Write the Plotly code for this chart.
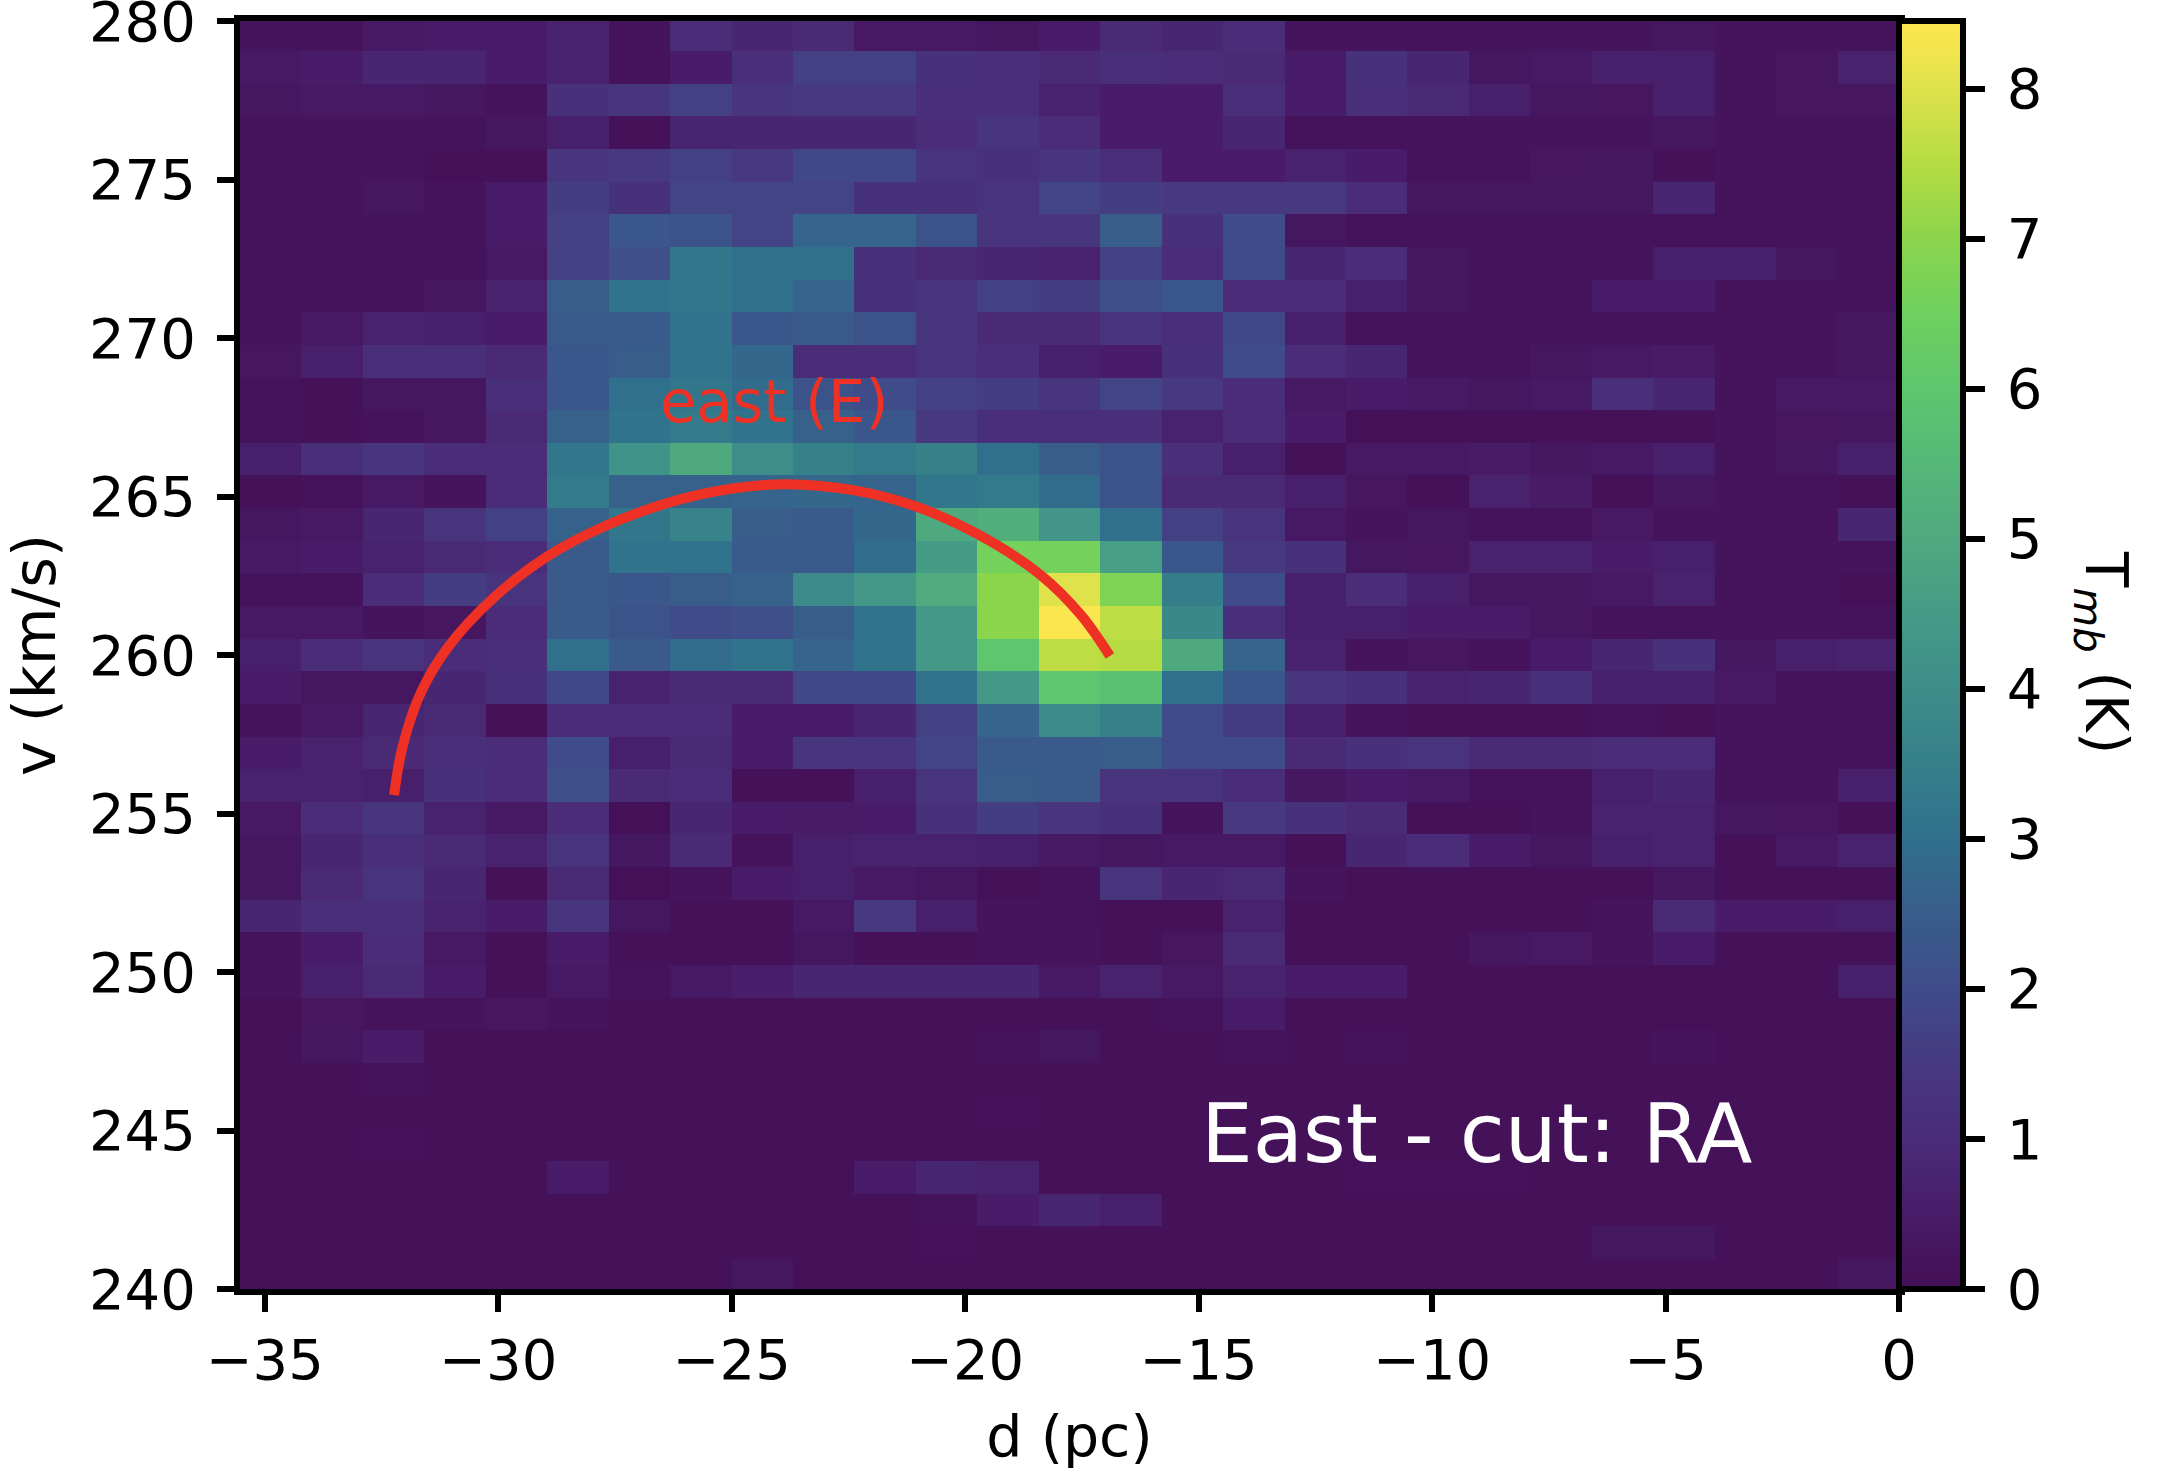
"""East cut position-velocity map, T_mb heatmap with the arc drawn over it."""
import numpy as np
import plotly.graph_objects as go

WIDTH, HEIGHT = 2172, 1470

# map values in K, rows from the top (v = 280) down, columns from d = -35.5 to 0
tmb_rows = [
    [.2,.2,.4,.5,.5,.7,.2,1.0,.8,.9,.4,.4,.3,.5,.9,.8,1.0,.2,.2,.2,.2,.2,.2,.3,.2,.2,.2],
    [.4,.5,.8,.8,.5,.7,.15,.5,1.1,1.7,1.7,1.2,1.1,.9,1.1,1.0,.9,.5,1.2,.8,.3,.4,.6,.6,.2,.25,.7],
    [.3,.35,.4,.3,.2,1.2,1.4,1.7,1.4,1.5,1.5,1.1,1.1,.7,.5,.5,1.1,.5,1.1,.9,.6,.3,.25,.6,.2,.25,.25],
    [.2,.2,.2,.15,.3,.6,.1,.75,.8,.8,.8,1.0,1.4,1.0,.5,.5,.8,.15,.15,.2,.2,.2,.2,.3,.2,.2,.2],
    [.2,.2,.2,.1,.1,1.4,1.5,1.7,1.5,1.9,1.9,1.3,1.2,1.4,1.1,.5,.5,.7,.5,.15,.15,.25,.3,.1,.2,.2,.2],
    [.2,.2,.3,.2,.5,1.6,1.2,1.8,1.8,1.8,1.2,1.2,1.3,1.8,1.6,1.5,1.5,1.5,1.0,.3,.3,.3,.3,.8,.2,.2,.2],
    [.2,.2,.2,.2,.5,1.7,2.3,2.2,1.8,2.7,2.7,2.2,1.3,1.4,2.5,1.2,2.0,.3,.15,.15,.15,.15,.15,.15,.15,.15,.2],
    [.2,.2,.15,.15,.4,1.7,2.1,3.2,3.0,3.0,1.2,.9,.8,.7,1.7,1.0,2.0,.8,1.0,.3,.2,.2,.2,.6,.6,.3,.2],
    [.2,.2,.2,.3,.7,2.5,3.1,3.2,3.0,2.7,1.2,1.4,1.7,1.6,2.1,2.3,1.0,1.0,.6,.3,.2,.2,.5,.5,.2,.2,.2],
    [.2,.4,.7,.6,.5,2.4,2.4,3.1,2.3,2.4,2.2,1.3,.9,.9,1.3,1.1,1.9,.6,.15,.15,.15,.15,.2,.2,.2,.2,.3],
    [.25,.6,1.1,1.1,.9,2.3,2.5,3.1,2.8,1.0,1.0,1.3,1.1,.6,.5,1.2,2.0,1.0,.8,.15,.15,.3,.4,.45,.2,.2,.3],
    [.15,.1,.3,.3,1.1,2.3,3.0,3.2,2.9,2.2,2.0,1.7,1.6,1.4,1.8,1.5,1.0,.35,.5,.4,.3,.35,1.1,.8,.2,.35,.35],
    [.15,.1,.15,.3,.9,2.6,3.1,3.3,3.1,2.6,2.3,1.5,1.1,1.1,1.1,.7,1.0,.5,.1,.1,.1,.1,.1,.1,.2,.25,.3],
    [.6,1.1,1.4,1.0,1.0,3.2,4.2,5.0,4.0,3.5,3.3,3.5,3.0,2.5,2.2,1.1,.6,.1,.4,.4,.45,.3,.4,.6,.2,.3,.6],
    [.1,.15,.4,.2,1.0,3.3,2.6,2.6,2.7,2.8,2.7,3.2,3.3,2.9,2.2,.9,.9,.6,.25,.1,.7,.45,.1,.3,.2,.15,.1],
    [.3,.35,.8,1.3,1.7,2.6,3.2,3.6,2.5,2.4,2.8,5.0,5.2,4.3,3.0,1.7,1.3,.4,.2,.3,.15,.15,.4,.2,.2,.2,.8],
    [.4,.5,.7,.9,1.0,2.4,3.1,3.1,2.4,2.4,2.9,4.5,6.6,6.6,4.6,2.3,1.5,1.2,.3,.25,.7,.7,.5,.6,.2,.2,.2],
    [.15,.15,1.0,1.6,1.3,2.4,2.3,2.5,2.6,3.9,4.4,5.1,7.0,8.0,6.8,3.4,2.0,.6,1.0,.6,.3,.3,.4,.7,.15,.15,.1],
    [.4,.4,.2,.25,1.0,2.4,2.2,2.0,2.1,2.5,3.1,4.4,7.0,8.4,7.6,3.8,1.1,.6,.6,.5,.5,.3,.15,.15,.2,.2,.2],
    [.6,1.0,1.3,1.0,1.1,3.0,2.4,2.9,3.1,2.7,3.1,4.4,6.0,7.6,7.5,5.0,2.7,.7,.2,.25,.2,.5,.8,1.2,.3,.6,.7],
    [.5,.3,.3,.8,1.2,1.9,.7,.9,.9,1.9,1.9,3.1,4.4,6.0,5.8,3.0,2.3,1.4,1.2,.7,.8,1.2,.6,.6,.4,.15,.15],
    [.2,.4,.8,.9,.1,1.0,1.0,1.0,.5,.5,.8,1.7,2.7,3.9,3.5,2.0,1.6,.6,.2,.1,.1,.1,.15,.1,.2,.2,.15],
    [.5,.7,.9,1.1,1.0,2.0,.6,.9,.5,1.4,1.4,1.8,2.4,2.4,2.5,2.0,2.0,.9,1.2,1.3,.9,.9,1.0,1.0,.2,.2,.2],
    [.7,.7,.6,1.2,1.0,2.1,.9,1.0,.1,.1,.6,1.3,2.5,2.4,1.3,1.3,1.0,.3,.5,.4,.15,.15,.6,.8,.2,.2,.6],
    [.4,1.0,1.4,.7,.4,1.0,.05,.8,.5,.45,.5,1.2,1.6,1.4,1.2,.2,1.5,1.2,.9,.1,.1,.2,.7,.7,.3,.25,.1],
    [.3,.8,1.1,.9,.7,1.3,.3,.9,.2,.6,.7,.7,.6,.4,.3,.4,.4,.1,.8,1.0,.5,.3,.6,.7,.1,.35,.7],
    [.3,.9,1.3,.8,.1,.9,.05,.2,.5,.6,.35,.3,.1,.15,1.3,.8,.9,.2,.1,.1,.1,.1,.1,.3,.1,.1,.1],
    [.8,1.1,1.1,.7,.5,1.4,.3,.1,.1,.4,1.5,.6,.2,.15,.1,.1,.7,.1,.1,.1,.1,.1,.2,.9,.5,.5,.6],
    [.15,.5,1.0,.4,.1,.5,.1,.1,.1,.3,.1,.1,.2,.2,.1,.25,.9,.1,.1,.1,.3,.4,.2,.5,.1,.1,.1],
    [.2,.6,.9,.5,.1,.4,.15,.4,.55,.8,.8,.8,.8,.35,.7,.4,.7,.5,.5,.1,.1,.1,.1,.1,.1,.1,.6],
    [.1,.25,.2,.2,.25,.2,.1,.1,.1,.1,.1,.1,.1,.1,.1,.15,.5,.1,.1,.1,.1,.1,.1,.1,.1,.1,.1],
    [.1,.3,.5,.1,.1,.1,.1,.1,.1,.1,.1,.1,.15,.3,.1,.1,.15,.1,.15,.1,.1,.1,.1,.2,.1,.1,.1],
    [.1,.1,.15,.1,.1,.1,.1,.1,.1,.1,.1,.1,.12,.1,.1,.1,.1,.1,.1,.1,.1,.1,.1,.1,.1,.1,.1],
    [.1,.1,.1,.1,.1,.1,.1,.1,.1,.1,.1,.1,.13,.1,.1,.1,.1,.1,.1,.1,.1,.1,.1,.1,.1,.1,.1],
    [.1,.1,.13,.1,.1,.1,.1,.1,.1,.12,.1,.1,.1,.1,.1,.1,.1,.1,.1,.1,.1,.1,.1,.1,.1,.1,.1],
    [.1,.1,.1,.1,.1,.5,.1,.1,.1,.12,.5,.8,.7,.1,.1,.1,.1,.1,.13,.13,.13,.1,.1,.1,.1,.1,.1],
    [.1,.1,.1,.1,.1,.1,.1,.1,.1,.12,.12,.15,.5,.8,.6,.1,.1,.1,.1,.1,.1,.1,.1,.1,.1,.1,.1],
    [.1,.1,.1,.1,.1,.1,.1,.1,.1,.12,.12,.13,.1,.1,.1,.1,.1,.1,.1,.1,.1,.1,.3,.3,.1,.1,.12],
    [.1,.1,.1,.1,.1,.1,.1,.1,.3,.1,.1,.1,.1,.1,.1,.1,.1,.1,.1,.1,.1,.1,.1,.1,.1,.1,.3],
]
assert all(len(r) == 27 for r in tmb_rows) and len(tmb_rows) == 39

# the arc
arc_d = [-32.23, -32.05, -31.66, -31.10, -30.10, -28.96, -27.66, -26.13, -24.90, -23.79, -22.40, -21.08, -19.73, -18.38, -17.52, -16.90]
arc_v = [255.58, 257.10, 258.80, 260.20, 261.80, 263.10, 264.10, 264.90, 265.27, 265.39, 265.20, 264.70, 263.81, 262.52, 261.26, 259.97]

d_ticks = [-35, -30, -25, -20, -15, -10, -5, 0]
v_ticks = [240, 245, 250, 255, 260, 265, 270, 275, 280]
tmb_ticks = [0, 1, 2, 3, 4, 5, 6, 7, 8]

# colour bar as it looks in the picture, a washed viridis
TMB_MAX = 8.45
cbar_values = [0, .5, 1, 1.5, 2, 2.5, 3, 3.5, 4, 4.5, 5, 5.5, 6, 6.5, 7, 7.5, 8, 8.45]
cbar_colors = ["#440f56", "#481c68", "#4a2c78", "#46397f", "#3f4c89", "#385d8b", "#30708d", "#358089",
               "#3e8d8a", "#449b86", "#4fa97f", "#55b878", "#5ec66e", "#6ed05e", "#8bd54d", "#b5dc42",
               "#e0e24c", "#fee64f"]
colorscale = [[v / TMB_MAX, c] for v, c in zip(cbar_values, cbar_colors)]

# cell grid
col_width = 35.53 / 27
row_height = 1.03
d_centers = -35.53 + col_width * (np.arange(27) + 0.5)
v_centers = 279.565 - row_height * np.arange(39)

FONT = "DejaVu Sans"
TICK_SIZE = 56
LEFT, RIGHT, TOP, BOTTOM = 240, 1899, 21, 1289

fig = go.Figure()
fig.add_trace(go.Heatmap(
    x=d_centers, y=v_centers, z=tmb_rows,
    zmin=0, zmax=TMB_MAX, colorscale=colorscale,
    hoverinfo="skip",
    colorbar=dict(
        x=RIGHT / WIDTH, xanchor="left", xpad=0, ypad=0,
        y=1 - BOTTOM / HEIGHT, yanchor="bottom",
        len=(BOTTOM - TOP) / HEIGHT, lenmode="fraction",
        thickness=64, thicknessmode="pixels",
        outlinewidth=6, outlinecolor="black",
        tickmode="array", tickvals=tmb_ticks,
        # thin space in front pushes the labels off the ticks, colorbars have no standoff
        ticktext=[f"\u2009{t}" for t in tmb_ticks],
        ticks="outside", ticklen=19, tickwidth=6, tickcolor="black",
        ticklabeloverflow="allow",
        tickfont=dict(family=FONT, size=TICK_SIZE, color="black"),
    ),
))
fig.add_trace(go.Scatter(
    x=arc_d, y=arc_v, mode="lines",
    line=dict(color="#ee3124", width=10, shape="spline"),
    hoverinfo="skip", showlegend=False,
))

fig.add_annotation(x=-24.1, y=268.0, text="east (E)", showarrow=False,
                   font=dict(family=FONT, size=59, color="#ee3124"))
fig.add_annotation(x=-15.0, y=244.9, text="East - cut: RA", showarrow=False, xanchor="left",
                   font=dict(family=FONT, size=82, color="white"))
fig.add_annotation(xref="paper", yref="paper", x=2102 / WIDTH, y=1 - 652 / HEIGHT,
                   xanchor="center", yanchor="middle", textangle=90, showarrow=False,
                   text="T<sub><i>mb</i></sub> (K)",
                   font=dict(family=FONT, size=58, color="black"))

axis_style = dict(
    showline=True, linewidth=6, linecolor="black", mirror=True,
    ticks="outside", ticklen=17, tickwidth=6, tickcolor="black",
    showgrid=False, zeroline=False, ticklabeloverflow="allow",
    tickfont=dict(family=FONT, size=TICK_SIZE, color="black"),
)
fig.update_layout(
    width=WIDTH, height=HEIGHT,
    margin=dict(l=0, r=0, t=0, b=0, autoexpand=False),
    paper_bgcolor="white", plot_bgcolor="white",
    showlegend=False,
    xaxis=dict(
        domain=[LEFT / WIDTH, RIGHT / WIDTH], range=[-35.53, 0],
        tickmode="array", tickvals=d_ticks,
        title=dict(text="d (pc)", font=dict(family=FONT, size=57, color="black"), standoff=27),
        **axis_style,
    ),
    yaxis=dict(
        domain=[1 - BOTTOM / HEIGHT, 1 - TOP / HEIGHT], range=[240, 280],
        tickmode="array", tickvals=v_ticks, ticklabelstandoff=10,
        title=dict(text="v (km/s)", font=dict(family=FONT, size=59, color="black"), standoff=28),
        **axis_style,
    ),
)

# the default body margin would push the figure 8 px in and cut the 280 label
fig.write_html("out.html", config={"displayModeBar": False},
               post_script="document.body.style.margin = '0';")
